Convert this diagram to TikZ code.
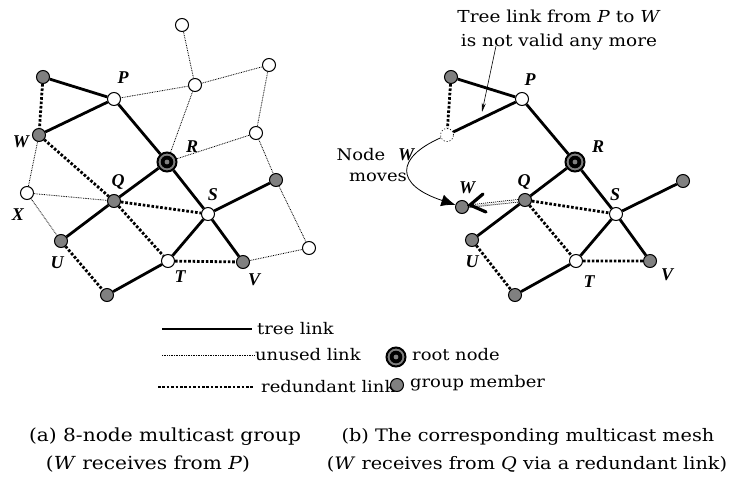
\documentclass[tikz,border=0pt]{standalone}
\usepackage{fontspec}
\setmainfont[FakeStretch=1.12]{DejaVu Serif}
\newfontfamily\lblfont{Liberation Serif}
\usetikzlibrary{arrows.meta}
\usetikzlibrary{calc}

\begin{document}
\begin{tikzpicture}[x=1pt,y=-1pt,
    wnode/.style={circle, draw, fill=white, line width=1pt, minimum size=13pt, inner sep=0pt},
    gnode/.style={wnode, fill=gray},
    ghost/.style={wnode, dotted, line width=0.7pt},
    rootnode/.style={circle, draw, fill=gray, line width=2pt, minimum size=19pt, inner sep=0pt,
        path picture={\fill[black] (path picture bounding box.center) circle (6.3pt);
                      \fill[gray] (path picture bounding box.center) circle (2.4pt);}},
    treelink/.style={line width=2.8pt},
    unusedlink/.style={line width=0.8pt, dash pattern=on 0.8pt off 0.9pt},
    redlink/.style={line width=2.8pt, dash pattern=on 2.6pt off 1.8pt},
    lbl/.style={font=\lblfont\bfseries\itshape\fontsize{18}{18}\selectfont, inner sep=0pt},
    txt/.style={font=\fontsize{16}{16}\selectfont, inner sep=0pt},
    captext/.style={font=\fontsize{18}{18}\selectfont, inner sep=0pt}]
    \useasboundingbox (0,0) rectangle (733,477);

    % (a) 8-node multicast group
    \node[wnode] (aTop) at (182,25) {};
    \node[gnode] (aA) at (43,77) {};
    \node[wnode] (aP) at (114,99) {};
    \node[wnode] (aN1) at (195,85) {};
    \node[wnode] (aN2) at (269,65) {};
    \node[gnode] (aW) at (39,135) {};
    \node[wnode] (aN3) at (256,133) {};
    \node[rootnode] (aR) at (167,162) {};
    \node[wnode] (aX) at (27,193) {};
    \node[gnode] (aQ) at (114,201) {};
    \node[wnode] (aS) at (208,214) {};
    \node[gnode] (aN4) at (276,180) {};
    \node[gnode] (aU) at (61,241) {};
    \node[wnode] (aN5) at (309,248) {};
    \node[wnode] (aT) at (168,261) {};
    \node[gnode] (aV) at (243,262) {};
    \node[gnode] (aB) at (107,295) {};

    \draw[treelink] (aA) -- (aP) -- (aW);
    \draw[treelink] (aP) -- (aR) -- (aQ) -- (aU);
    \draw[treelink] (aR) -- (aS) -- (aV);
    \draw[treelink] (aN4) -- (aS) -- (aT) -- (aB);
    \draw[redlink] (aA) -- (aW);
    \draw[redlink] (aW) -- (aQ) -- (aS);
    \draw[redlink] (aQ) -- (aT) -- (aV);
    \draw[redlink] (aU) -- (aB);
    \draw[unusedlink] (aTop) -- (aN1) -- (aP);
    \draw[unusedlink] (aN1) -- (aN2) -- (aN3) -- (aN4) -- (aN5) -- (aV);
    \draw[unusedlink] (aN1) -- (aR) -- (aN3);
    \draw[unusedlink] (aW) -- (aX) -- (aU);
    \draw[unusedlink] (aX) -- (aQ);

    \node[lbl] (aPl) at (123,78) {P};
    \node[lbl] (aWl) at (21,142) {W};
    \node[lbl] (aRl) at (192,147) {R};
    \node[lbl] (aQl) at (118,182) {Q};
    \node[lbl] (aSl) at (213,195) {S};
    \node[lbl] (aXl) at (18,215) {X};
    \node[lbl] (aUl) at (57,263) {U};
    \node[lbl] (aTl) at (180,277) {T};
    \node[lbl] (aVl) at (254,280) {V};

    % (b) the corresponding multicast mesh
    \node[gnode] (bA) at (451,77) {};
    \node[wnode] (bP) at (522,99) {};
    \node[ghost] (bWold) at (447,135) {};
    \node[rootnode] (bR) at (575,162) {};
    \node[gnode] (bQ) at (525,200) {};
    \node[wnode] (bS) at (616,214) {};
    \node[gnode] (bN4) at (683,181) {};
    \node[gnode] (bW) at (462,207) {};
    \node[gnode] (bU) at (472,240) {};
    \node[wnode] (bT) at (576,261) {};
    \node[gnode] (bV) at (650,261) {};
    \node[gnode] (bB) at (515,295) {};

    \draw[treelink] (bA) -- (bP) -- (bWold);
    \draw[treelink] (bP) -- (bR) -- (bQ) -- (bU);
    \draw[treelink] (bR) -- (bS) -- (bV);
    \draw[treelink] (bN4) -- (bS) -- (bT) -- (bB);
    \draw[redlink] (bA) -- (bWold);
    \draw[redlink] (bQ) -- (bS);
    \draw[redlink] (bQ) -- (bT) -- (bV);
    \draw[redlink] (bU) -- (bB);
    \draw[double, double distance=1.8pt, line width=0.8pt, dash pattern=on 1pt off 1pt] (bQ) -- (bW);
    \draw[line width=3.2pt, line cap=round] ($(bW)+(21,-13)$) -- ($(bW)+(8,-2)$) -- ($(bW)+(24,5)$);

    \node[lbl] (bPl) at (530,80) {P};
    \node[lbl] (bRl) at (598,147) {R};
    \node[lbl] (bQl) at (524,182) {Q};
    \node[lbl] (bSl) at (615,195) {S};
    \node[lbl] (bWl) at (467,188) {W};
    \node[lbl] (bUl) at (472,262) {U};
    \node[lbl] (bTl) at (589,282) {T};
    \node[lbl] (bVl) at (667,275) {V};

    % moving node
    \node[txt] (movea) at (361,155) {Node};
    \node[lbl] (bWm) at (406,155) {W};
    \node[txt] (moveb) at (378,177) {moves};
    \draw[line width=0.8pt, -{Latex[length=14pt,width=12pt]}] (bWold) .. controls (395,158) and (395,185) .. (bW);

    \node[txt, align=center, font=\fontsize{16.5}{24}\selectfont] (note) at (559,30)
        {Tree link from \textit{P} to \textit{W}\\is not valid any more};
    \coordinate (notestart) at (496,46);
    \coordinate (noteend) at (482,112);
    \draw[line width=0.6pt, -{Stealth[length=9pt,width=4pt]}] (notestart) -- (noteend);

    % legend
    \coordinate (l1a) at (162,329); \coordinate (l1b) at (252,329);
    \coordinate (l2a) at (162,355); \coordinate (l2b) at (255,355);
    \coordinate (l3a) at (158,387); \coordinate (l3b) at (253,387);
    \draw[treelink] (l1a) -- (l1b);
    \draw[unusedlink] (l2a) -- (l2b);
    \draw[redlink] (l3a) -- (l3b);
    \node[txt, anchor=west] (l1t) at (257,329) {tree link};
    \node[txt, anchor=west] (l2t) at (255,355) {unused link};
    \node[txt, anchor=west] (l3t) at (261,387) {redundant link};
    \node[rootnode] (lroot) at (396,357) {};
    \node[txt, anchor=west] (lroott) at (412,355) {root node};
    \node[gnode] (lgrp) at (397,385) {};
    \node[txt, anchor=west] (lgrpt) at (410,383) {group member};

    % captions
    \node[captext] (capa1) at (165,437) {(a) 8-node multicast group};
    \node[captext] (capa2) at (148,464) {(\textit{W} receives from \textit{P})};
    \node[captext, font=\fontsize{17.2}{17.2}\selectfont] (capb1) at (528,437) {(b) The corresponding multicast mesh};
    \node[captext, font=\fontsize{17.2}{17.2}\selectfont] (capb2) at (527,464) {(\textit{W} receives from \textit{Q} via a redundant link)};
\end{tikzpicture}
\end{document}
